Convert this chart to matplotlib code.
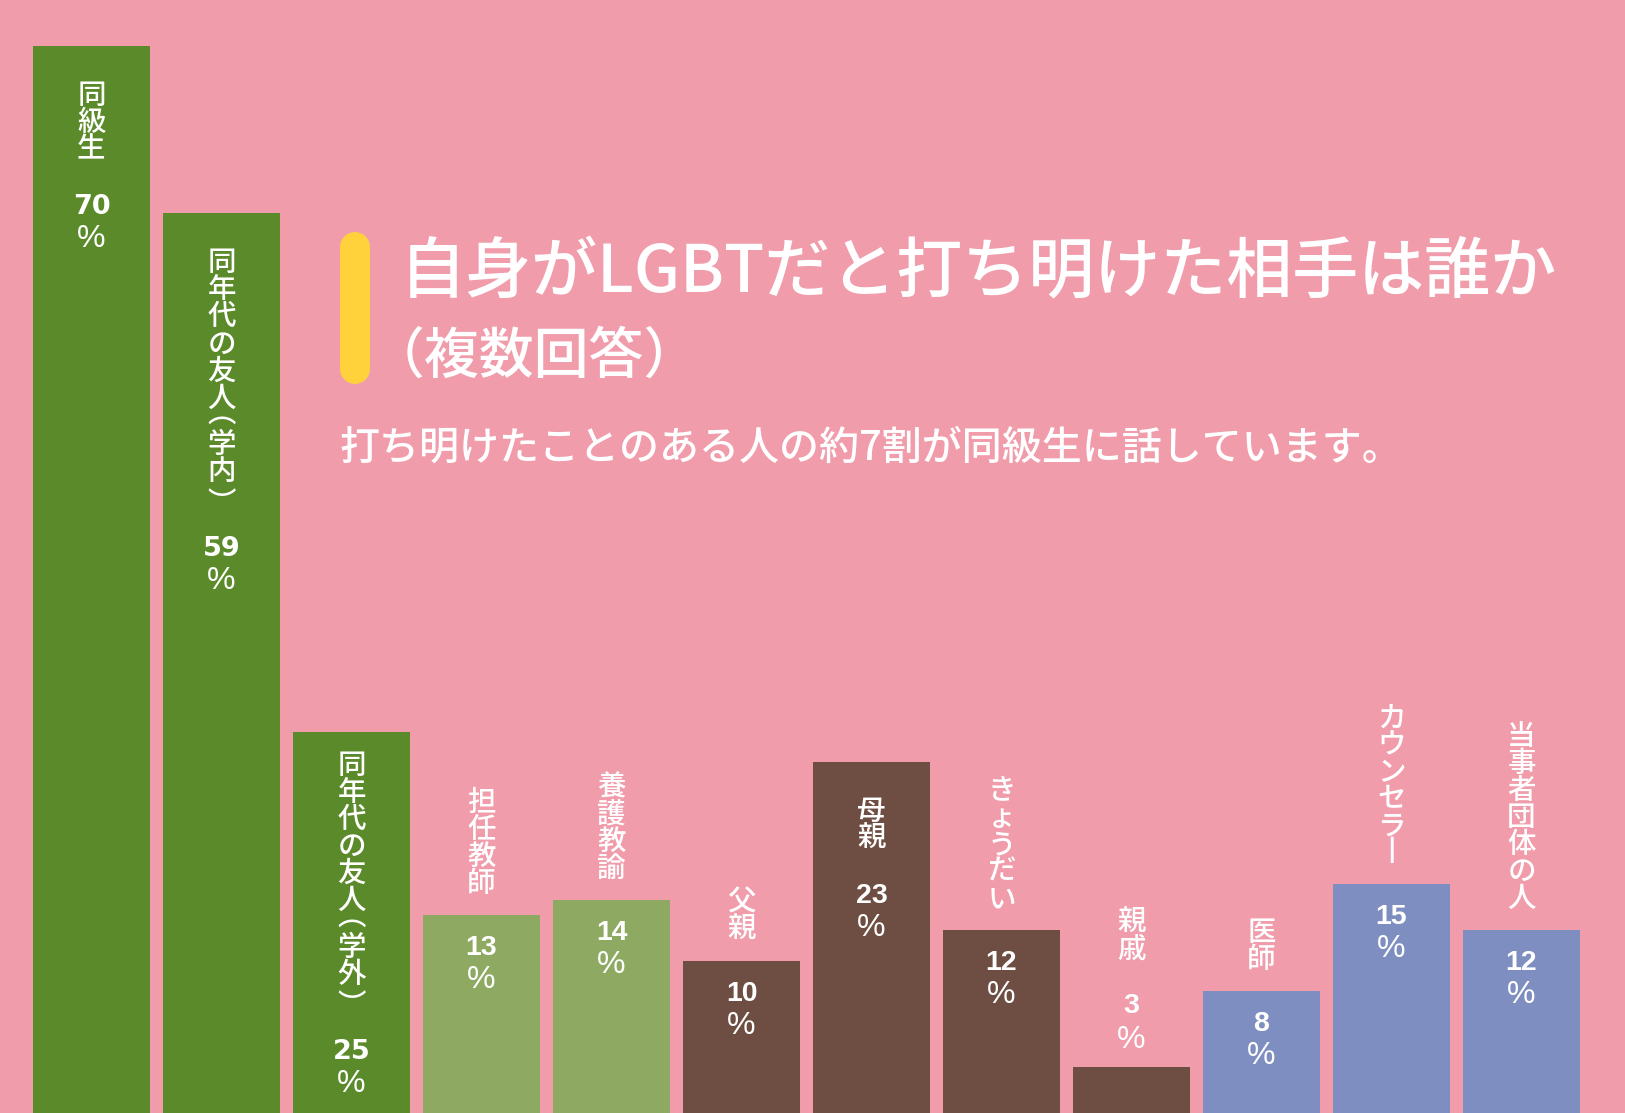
import matplotlib
matplotlib.use("Agg")
import matplotlib.pyplot as plt
from matplotlib.lines import Line2D

# data
labels = ["同級生", "同年代の友人︵学内︶", "同年代の友人︵学外︶", "担任教師", "養護教諭",
          "父親", "母親", "きょうだい", "親戚", "医師", "カウンセラ丨", "当事者団体の人"]
values = [70, 59, 25, 13, 14, 10, 23, 12, 3, 8, 15, 12]
groups = ["友人", "友人", "友人", "学校", "学校", "家族", "家族", "家族", "家族",
          "専門", "専門", "専門"]

title = "自身がLGBTだと打ち明けた相手は誰か"
subtitle = "（複数回答）"
note = "打ち明けたことのある人の約7割が同級生に話しています。"

group_colors = {"友人": "#5b8a2b", "学校": "#8eaa62", "家族": "#6e4e42", "専門": "#7e8ec1"}
bg = "#f09cab"
jp = ["Noto Sans CJK JP", "DejaVu Sans"]

W, H = 1625, 1113
fig = plt.figure(figsize=(W / 100, H / 100), dpi=100, facecolor=bg)
ax = fig.add_axes([0, 0, 1, 1], facecolor=bg)

x = list(range(len(values)))
ax.bar(x, values, width=0.9, color=[group_colors[g] for g in groups], zorder=2)
ax.set_xlim(-0.704, 11.796)
ax.set_ylim(0, 73.0)
ax.axis("off")

px_per_unit = H / 73.0
lab_font = dict(family=jp, fontsize=20.5, fontweight="medium")
pct_font = dict(family="Liberation Sans", fontsize=23)

# vertical brackets sit low / high in their glyph box, so nudge them
nudge = {"︵": 8, "︶": -8}


def adv(c):
    # vertical advance of one stacked character, in pixels
    return 20 if c in nudge else 27


def put(i, v, dy, s, **kw):
    ax.annotate(s, xy=(i, v), xytext=(0, dy), textcoords="offset pixels",
                ha="center", va="center", color="white", zorder=3, **kw)


def stack_down(i, v, top, chars):
    cur = top
    for c in chars:
        put(i, v, -(cur + adv(c) / 2) + nudge.get(c, 0), c, **lab_font)
        cur += adv(c)
    return cur


def stack_up(i, v, bottom, chars):
    cur = bottom
    for c in reversed(chars):
        put(i, v, cur + adv(c) / 2 + nudge.get(c, 0), c, **lab_font)
        cur += adv(c)


for i, (lab, v) in enumerate(zip(labels, values)):
    chars = list(lab)
    num_font = dict(family="DejaVu Sans", fontsize=19.5, fontweight="bold") if i < 3 \
        else dict(family="Liberation Sans", fontsize=20.5, fontweight="bold")
    if v >= 20:
        # label and value inside the bar
        length = sum(adv(c) for c in chars)
        pad = min(36, v * px_per_unit - length - 44 - 32 - 29)
        end = stack_down(i, v, pad, chars)
        put(i, v, -(end + 44), str(v), **num_font)
        put(i, v, -(end + 76), "%", **pct_font)
    elif v < 5:
        # everything above a very short bar
        put(i, v, 27, "%", **pct_font)
        put(i, v, 61, str(v), **num_font)
        stack_up(i, v, 104, chars)
    else:
        # label above, value inside
        stack_up(i, v, 18, chars)
        put(i, v, -33, str(v), **num_font)
        put(i, v, -65, "%", **pct_font)

# title block
fig.add_artist(Line2D([355 / W, 355 / W], [1 - 247 / H, 1 - 369 / H],
                      transform=fig.transFigure, color="#ffd23c", linewidth=21.6,
                      solid_capstyle="round"))
fig.text(400 / W, 1 - 274 / H, title, family=jp, fontsize=47.5, fontweight="medium",
         color="white", va="center", ha="left")
fig.text(370 / W, 1 - 357 / H, subtitle, family=jp, fontsize=39.5, fontweight="medium",
         color="white", va="center", ha="left")
fig.text(340 / W, 1 - 448 / H, note, family=jp, fontsize=28.8, fontweight="medium",
         color="white", va="center", ha="left")

fig.savefig("out.png", dpi=100, facecolor=bg)
